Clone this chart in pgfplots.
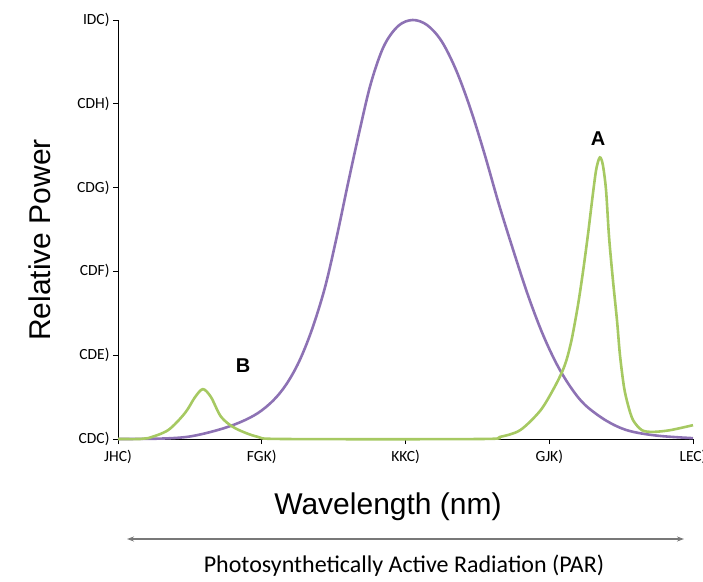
\documentclass[border=0pt]{standalone}
\usepackage{fontspec}
\setmainfont{Carlito}
\newfontfamily\arialf{Liberation Sans}
\usepackage{pgfplots}
\pgfplotsset{compat=1.18}
\usetikzlibrary{arrows.meta}
\definecolor{vio}{RGB}{141,114,180}
\definecolor{grn}{RGB}{166,201,98}
\definecolor{arrgray}{RGB}{120,120,120}
\begin{document}
\begin{tikzpicture}[x=1pt,y=1pt]
\path[use as bounding box] (0,0) rectangle (703,581);
\begin{axis}[
  at={(118pt,142pt)}, anchor=south west,
  scale only axis, width=575pt, height=419pt,
  xmin=0, xmax=4, ymin=0, ymax=1,
  axis lines*=left,
  axis line style={line width=0.9pt, black},
  xtick={0,1,2,3,4},
  xticklabels={JHC),FGK),KKC),GJK),LEC)},
  ytick={0,0.2,0.4,0.6,0.8,1},
  yticklabels={CDC),CDE),CDF),CDG),CDH),IDC)},
  tick style={black, line width=0.8pt},
  major tick length=5pt,
  tick align=outside,
  tick label style={font=\fontsize{15.5}{17}\selectfont},
  xticklabel style={yshift=-3pt},
  clip=false,
]
\addplot[vio, line width=2.6pt, smooth, tension=0.55] coordinates {
(0,0) (0.30,0.001) (0.5,0.006) (0.7,0.022) (0.85,0.040) (0.974,0.062)
(1.08,0.092) (1.17,0.130) (1.26,0.185) (1.35,0.262) (1.44,0.362)
(1.52,0.480) (1.60,0.610) (1.68,0.735) (1.76,0.850) (1.85,0.938)
(1.95,0.986) (2.05,1.0) (2.15,0.988) (2.25,0.950) (2.35,0.882)
(2.45,0.790) (2.55,0.680) (2.65,0.560) (2.75,0.450) (2.85,0.345)
(2.95,0.254) (3.05,0.180) (3.15,0.123) (3.25,0.081) (3.40,0.043)
(3.55,0.020) (3.75,0.008) (4.0,0.002)
};
\addplot[grn, line width=2.6pt, smooth, tension=0.5] coordinates {
(0,0) (0.153,0) (0.209,0.002) (0.348,0.021) (0.466,0.062) (0.536,0.100)
(0.591,0.119) (0.647,0.100) (0.717,0.053) (0.814,0.026) (0.974,0.005)
(1.162,0) (2.518,0) (2.657,0.005) (2.797,0.021) (2.936,0.067) (3.026,0.117)
(3.089,0.160) (3.123,0.192) (3.158,0.241) (3.200,0.320) (3.235,0.400)
(3.270,0.490) (3.300,0.575) (3.325,0.640) (3.345,0.668) (3.358,0.671)
(3.374,0.652) (3.395,0.594) (3.416,0.482) (3.443,0.379) (3.471,0.284)
(3.492,0.200) (3.520,0.124) (3.548,0.081) (3.583,0.045) (3.645,0.021)
(3.722,0.017) (3.840,0.021) (4.0,0.033)
};
\node[font=\arialf\bfseries\fontsize{20}{24}\selectfont] at (axis cs:3.339,0.718) {A};
\node[font=\arialf\bfseries\fontsize{20}{24}\selectfont] at (axis cs:0.870,0.174) {B};
\end{axis}
\node[font=\arialf\fontsize{30}{34}\selectfont] at (388,74) {Wavelength (nm)};
\node[font=\arialf\fontsize{30}{34}\selectfont, rotate=90] at (40,341) {Relative Power};
\draw[arrgray, line width=1.2pt, {Stealth[length=7pt,width=5pt]}-{Stealth[length=7pt,width=5pt]}] (127,42) -- (684,42);
\node[font=\fontsize{24}{28}\selectfont] at (404,15) {Photosynthetically Active Radiation (PAR)};
\end{tikzpicture}
\end{document}
